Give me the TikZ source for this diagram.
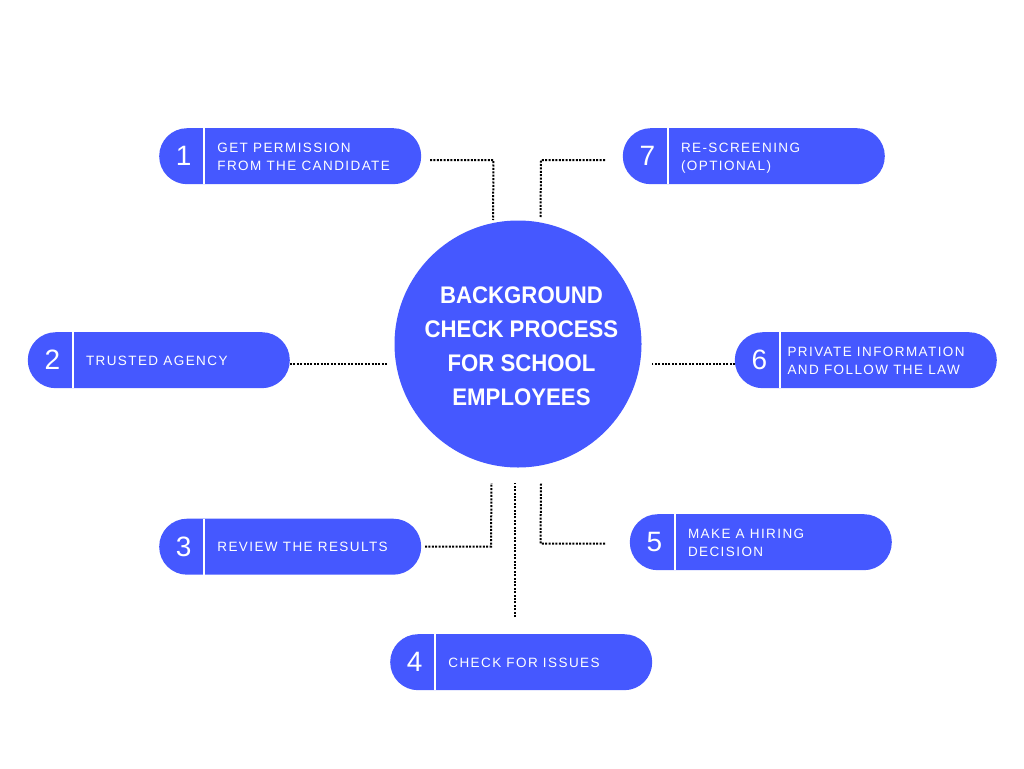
\documentclass[tikz,border=0pt]{standalone}
\usepackage{fontspec}
\setmainfont{Liberation Sans}
\newfontfamily\labelfont[LetterSpace=10.5]{Liberation Sans}
\newfontfamily\titlefont[FakeStretch=0.925]{Liberation Sans Bold}
\definecolor{pillblue}{HTML}{4558FF}
\tikzset{
  x=1pt,y=-1pt,
  pillbox/.style={fill=pillblue,draw=none,minimum width=262pt,minimum height=56pt,rounded corners=27.9pt,anchor=north west,inner sep=0pt},
  divider/.style={draw=white,line width=2pt},
  numlabel/.style={text=white,font=\fontsize{28}{28}\selectfont,inner sep=0pt},
  pilltext/.style={text=white,font=\labelfont\fontsize{13.5}{18}\selectfont,align=left,anchor=west,inner sep=0pt},
  hub/.style={circle,fill=pillblue,draw=none,minimum size=247pt,inner sep=0pt},
  hubtext/.style={text=white,font=\titlefont\fontsize{24}{34}\selectfont,align=center,inner sep=0pt},
  dotline/.style={draw=black,line width=2pt,dash pattern=on 2pt off 1.4pt}
}
\newcommand{\pillitem}[6]{%
  \node[pillbox] (#1) at (#2,#3) {};
  \draw[divider] ([xshift=-86.3pt]#1.north) -- ([xshift=-86.3pt]#1.south);
  \node[numlabel] (#1num) at ([xshift=-106.5pt]#1.center) {#4};
  \node[pilltext] (#1txt) at ([xshift=#6pt,yshift=-1.6pt]#1.center) {#5};
}
\begin{document}
\begin{tikzpicture}
\useasboundingbox (0,0) rectangle (1024,768);
\node[hub] (hubc) at (518,344) {};
\node[hubtext] (title) at (521.5,346.3) {BACKGROUND\\CHECK PROCESS\\FOR SCHOOL\\EMPLOYEES};
\pillitem{p1}{159}{128}{1}{\strut GET PERMISSION\\\strut FROM THE CANDIDATE}{-73}
\pillitem{p2}{27.6}{332}{2}{\strut TRUSTED AGENCY}{-73}
\pillitem{p3}{159}{518.5}{3}{\strut REVIEW THE RESULTS}{-73}
\pillitem{p4}{390}{634}{4}{\strut CHECK FOR ISSUES}{-73}
\pillitem{p5}{629.6}{514}{5}{\strut MAKE A HIRING\\\strut DECISION}{-73}
\pillitem{p6}{734.6}{332}{6}{\strut PRIVATE INFORMATION\\\strut AND FOLLOW THE LAW}{-78.5}
\pillitem{p7}{622.6}{128}{7}{\strut RE-SCREENING\\\strut (OPTIONAL)}{-73}
\coordinate (a1) at (430,160); \coordinate (b1) at (493.5,160); \coordinate (c1) at (493,220);
\coordinate (a7) at (605,160); \coordinate (b7) at (541,160); \coordinate (c7) at (540.5,217);
\coordinate (a2) at (290,364); \coordinate (c2) at (387,364);
\coordinate (a6) at (735,364); \coordinate (c6) at (652,364);
\coordinate (a3) at (425,546.5); \coordinate (b3) at (491,546.5); \coordinate (c3) at (491.5,483);
\coordinate (a4) at (515,617); \coordinate (c4) at (515,483);
\coordinate (a5) at (605,543.5); \coordinate (b5) at (540.5,543.5); \coordinate (c5) at (541,483);
\draw[dotline] (a1) -- (b1) -- (c1);
\draw[dotline] (a7) -- (b7) -- (c7);
\draw[dotline] (a2) -- (c2);
\draw[dotline] (a6) -- (c6);
\draw[dotline] (a3) -- (b3) -- (c3);
\draw[dotline] (a4) -- (c4);
\draw[dotline] (a5) -- (b5) -- (c5);
\end{tikzpicture}
\end{document}
